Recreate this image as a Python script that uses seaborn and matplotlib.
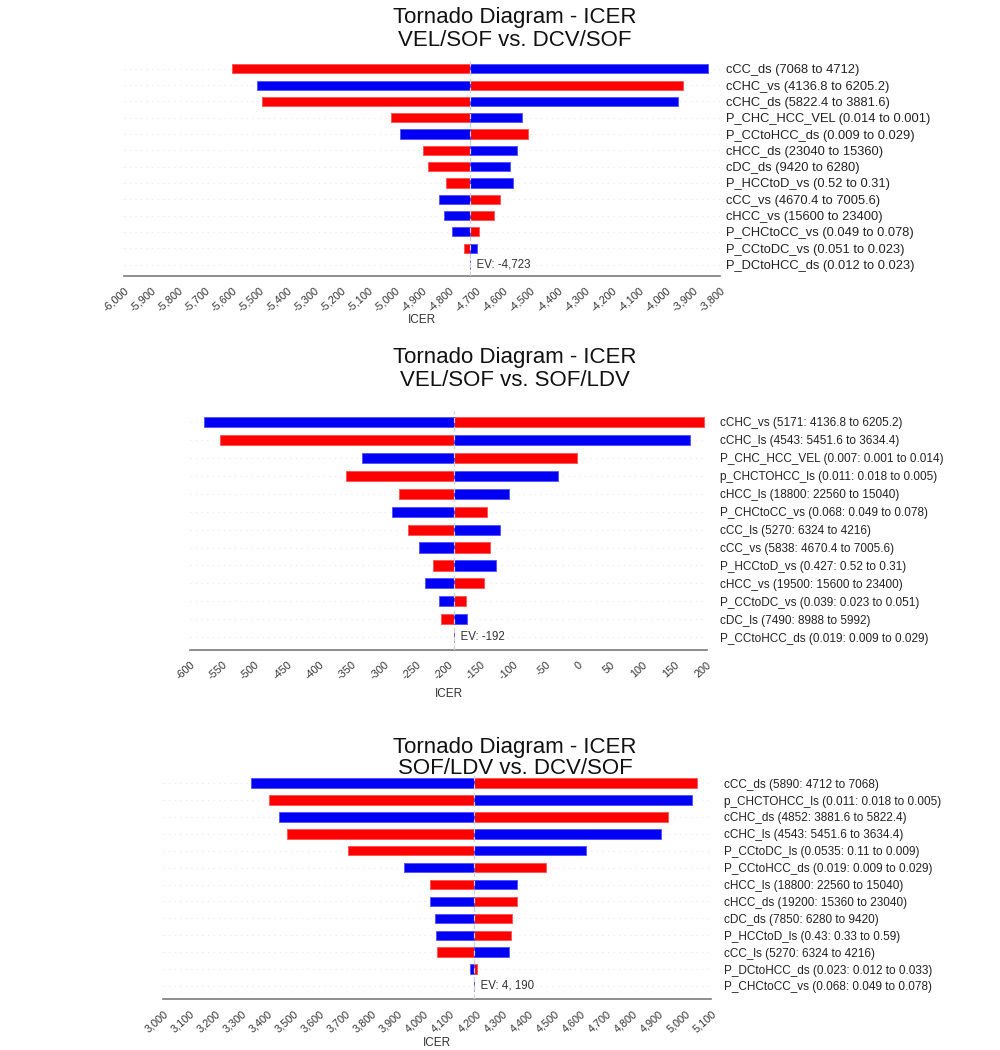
import matplotlib
matplotlib.use("Agg")
import matplotlib.pyplot as plt
import seaborn as sns
import pandas as pd
import numpy as np

# ---------------- data ----------------
titles1 = ["Tornado Diagram - ICER", "VEL/SOF vs. DCV/SOF"]
labels1 = ["cCC_ds (7068 to 4712)", "cCHC_vs (4136.8 to 6205.2)", "cCHC_ds (5822.4 to 3881.6)",
           "P_CHC_HCC_VEL (0.014 to 0.001)", "P_CCtoHCC_ds (0.009 to 0.029)", "cHCC_ds (23040 to 15360)",
           "cDC_ds (9420 to 6280)", "P_HCCtoD_vs (0.52 to 0.31)", "cCC_vs (4670.4 to 7005.6)",
           "cHCC_vs (15600 to 23400)", "P_CHCtoCC_vs (0.049 to 0.078)", "P_CCtoDC_vs (0.051 to 0.023)",
           "P_DCtoHCC_ds (0.012 to 0.023)"]
ev1 = -4723
ev1_text = "EV: -4,723"
red1 = [-5603, -3936, -5491, -5013, -4509, -4897, -4879, -4811, -4613, -4633, -4691, -4746, -4723]
blue1 = [-3843, -5510, -3956, -4531, -4983, -4551, -4574, -4563, -4836, -4817, -4789, -4696, -4723]
ticks1 = list(range(-6000, -3799, 100))

titles2 = ["Tornado Diagram - ICER", "VEL/SOF vs. SOF/LDV"]
labels2 = ["cCHC_vs (5171: 4136.8 to 6205.2)", "cCHC_ls (4543: 5451.6 to 3634.4)",
           "P_CHC_HCC_VEL (0.007: 0.001 to 0.014)", "p_CHCTOHCC_ls (0.011: 0.018 to 0.005)",
           "cHCC_ls (18800: 22560 to 15040)", "P_CHCtoCC_vs (0.068: 0.049 to 0.078)",
           "cCC_ls (5270: 6324 to 4216)", "cCC_vs (5838: 4670.4 to 7005.6)",
           "P_HCCtoD_vs (0.427: 0.52 to 0.31)", "cHCC_vs (19500: 15600 to 23400)",
           "P_CCtoDC_vs (0.039: 0.023 to 0.051)", "cDC_ls (7490: 8988 to 5992)",
           "P_CCtoHCC_ds (0.019: 0.009 to 0.029)"]
ev2 = -192
ev2_text = "EV: -192"
red2 = [196, -554, -1, -358, -276, -140, -262, -136, -224, -145, -173, -211, -192]
blue2 = [-578, 173, -334, -31, -106, -287, -120, -246, -127, -237, -214, -171, -192]
ticks2 = list(range(-600, 201, 50))

titles3 = ["Tornado Diagram - ICER", "SOF/LDV vs. DCV/SOF"]
labels3 = ["cCC_ds (5890: 4712 to 7068)", "p_CHCTOHCC_ls (0.011: 0.018 to 0.005)",
           "cCHC_ds (4852: 3881.6 to 5822.4)", "cCHC_ls (4543: 5451.6 to 3634.4)",
           "P_CCtoDC_ls (0.0535: 0.11 to 0.009)", "P_CCtoHCC_ds (0.019: 0.009 to 0.029)",
           "cHCC_ls (18800: 22560 to 15040)", "cHCC_ds (19200: 15360 to 23040)",
           "cDC_ds (7850: 6280 to 9420)", "P_HCCtoD_ls (0.43: 0.33 to 0.59)",
           "cCC_ls (5270: 6324 to 4216)", "P_DCtoHCC_ds (0.023: 0.012 to 0.033)",
           "P_CHCtoCC_vs (0.068: 0.049 to 0.078)"]
ev3 = 4190
ev3_text = "EV: 4, 190"
red3 = [5045, 3407, 4934, 3475, 3708, 4468, 4022, 4357, 4337, 4333, 4049, 4204, 4190]
blue3 = [3338, 5029, 3444, 4909, 4621, 3925, 4357, 4022, 4041, 4045, 4327, 4176, 4190]
ticks3 = list(range(3000, 5101, 100))

# ---------------- style ----------------
sns.set_theme(style="white")
plt.rcParams['font.family'] = ['Liberation Sans', 'DejaVu Sans']

RED = "#ff0000"
BLUE = "#0000f5"
GRID = "#e8e8e8"
AXC = "#7a7a7a"
FIG_H = 1050.0

fig = plt.figure(figsize=(10, 10.5), dpi=100)

panels = [
    dict(labels=labels1, red=red1, blue=blue1, ev=ev1, evt=ev1_text, ticks=ticks1, titles=titles1,
         rect=[0.124, 0.7372, 0.596, 0.2066], ybot=12.70, lab_fs=9.3, pad=4, title_y=(17, 40)),
    dict(labels=labels2, red=red2, blue=blue2, ev=ev2, evt=ev2_text, ticks=ticks2, titles=titles2,
         rect=[0.190, 0.3810, 0.517, 0.2276], ybot=12.70, lab_fs=8.5, pad=9, title_y=(357, 380)),
    dict(labels=labels3, red=red3, blue=blue3, ev=ev3, evt=ev3_text, ticks=ticks3, titles=titles3,
         rect=[0.163, 0.0486, 0.548, 0.2152], ybot=12.77, lab_fs=8.5, pad=9, title_y=(748, 769)),
]

for p in panels:
    ax = fig.add_axes(p["rect"])
    n = len(p["labels"])
    df = pd.DataFrame({
        "param": p["labels"],
        "red_w": np.array(p["red"], float) - p["ev"],
        "blue_w": np.array(p["blue"], float) - p["ev"],
    })
    for i in range(n):
        ax.axhline(i, color=GRID, lw=0.8, ls=(0, (1, 4)), zorder=0)
    sns.barplot(data=df, x="red_w", y="param", order=p["labels"], orient="h", color=RED,
                saturation=1, errorbar=None, width=0.56, left=p["ev"], edgecolor="#ff5050",
                linewidth=0.6, ax=ax, zorder=2)
    sns.barplot(data=df, x="blue_w", y="param", order=p["labels"], orient="h", color=BLUE,
                saturation=1, errorbar=None, width=0.56, left=p["ev"], edgecolor="#5050ff",
                linewidth=0.6, ax=ax, zorder=2)
    ax.axvline(p["ev"], color="#cfcfcf", lw=0.9, ls=(0, (4, 3)), zorder=3)
    ax.text(p["ev"], n - 1, "  " + p["evt"], ha="left", va="center", fontsize=8.3, color="#333333")

    # spines first (set_position resets ticks)
    for s in ["left", "right", "top"]:
        ax.spines[s].set_visible(False)
    ax.spines["bottom"].set_color(AXC)
    ax.spines["bottom"].set_linewidth(1.2)
    ax.spines["bottom"].set_position(("data", p["ybot"]))
    ax.grid(False)

    ax.set_xlim(p["ticks"][0], p["ticks"][-1])
    ax.set_ylim(p["ybot"], -0.6)
    ax.set_xticks(p["ticks"])
    ax.set_xticklabels([f"{t:,}" for t in p["ticks"]], rotation=42, ha="right",
                       rotation_mode="anchor", fontsize=7.8, color="#333333")
    ax.tick_params(axis="x", direction="inout", length=8, width=0.9, color=AXC, pad=3)
    ax.yaxis.tick_right()
    ax.tick_params(axis="y", length=0, pad=p["pad"], labelsize=p["lab_fs"], labelcolor="#222222")
    ax.set_ylabel("")
    ax.set_xlabel("ICER", fontsize=8.5, color="#333333")
    ax_h_px = p["rect"][3] * FIG_H
    ax.xaxis.set_label_coords(0.5, -44.0 / ax_h_px)
    ax.xaxis.label.set_va("center")

    for t, yy in zip(p["titles"], p["title_y"]):
        fig.text(0.515, 1 - yy / FIG_H, t, ha="center", va="center", fontsize=16, color="#111111")

fig.savefig("out.png", dpi=100)
